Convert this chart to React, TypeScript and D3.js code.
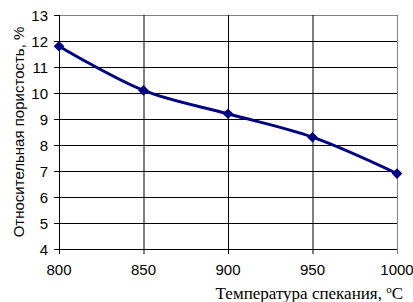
import { useRef, useEffect } from 'react'
import * as d3 from 'd3'

const temps = [800, 850, 900, 950, 1000]
const porosity = [11.8, 10.1, 9.2, 8.3, 6.9]
const yTicks = [4, 5, 6, 7, 8, 9, 10, 11, 12, 13]
const xTicks = [800, 850, 900, 950, 1000]

const App = () => {
  const svgRef = useRef<SVGSVGElement>(null)

  useEffect(() => {
    const svg = d3.select(svgRef.current)
    svg.selectAll('*').remove()

    const x = d3.scaleLinear().domain([800, 1000]).range([59, 397])
    const y = d3.scaleLinear().domain([4, 13]).range([249, 15])

    // horizontal grid
    svg.append('g').selectAll('line')
      .data(yTicks)
      .enter()
      .append('line')
      .attr('x1', x(800)).attr('x2', x(1000))
      .attr('y1', d => y(d) + 0.5).attr('y2', d => y(d) + 0.5)
      .attr('stroke', (d) => d === 13 ? '#808080' : '#000')
      .attr('stroke-width', 1)

    // vertical grid
    svg.append('g').selectAll('line')
      .data(xTicks.slice(1))
      .enter()
      .append('line')
      .attr('x1', d => x(d) + 0.5).attr('x2', d => x(d) + 0.5)
      .attr('y1', y(13)).attr('y2', y(4) + 5)
      .attr('stroke', d => d === 1000 ? '#808080' : '#000')

    // axes
    svg.append('line')
      .attr('x1', x(800) + 0.5).attr('x2', x(800) + 0.5)
      .attr('y1', y(13)).attr('y2', y(4) + 5)
      .attr('stroke', '#000')
    svg.append('g').selectAll('line')
      .data(yTicks)
      .enter()
      .append('line')
      .attr('x1', x(800) - 5).attr('x2', x(800))
      .attr('y1', d => y(d) + 0.5).attr('y2', d => y(d) + 0.5)
      .attr('stroke', '#000')

    svg.append('g').selectAll('text')
      .data(yTicks)
      .enter()
      .append('text')
      .attr('x', 48)
      .attr('y', d => y(d) + 5.5)
      .attr('text-anchor', 'end')
      .attr('font-family', 'Liberation Sans, Arial, sans-serif')
      .attr('font-size', 15)
      .text(d => d)

    svg.append('g').selectAll('text')
      .data(xTicks)
      .enter()
      .append('text')
      .attr('x', d => x(d))
      .attr('y', 275)
      .attr('text-anchor', 'middle')
      .attr('font-family', 'Liberation Sans, Arial, sans-serif')
      .attr('font-size', 15)
      .text(d => d)

    // titles
    const xt = svg.append('text')
      .attr('x', 403)
      .attr('y', 299)
      .attr('text-anchor', 'end')
      .attr('font-family', 'Liberation Serif, Times New Roman, serif')
      .attr('font-size', 17)
    xt.append('tspan').text('Температура спекания, ')
    xt.append('tspan').attr('dy', -6).attr('font-size', 11).text('o')
    xt.append('tspan').attr('dy', 6).text('C')

    svg.append('text')
      .attr('transform', `translate(24,${(y(4) + y(13)) / 2}) rotate(-90)`)
      .attr('text-anchor', 'middle')
      .attr('font-family', 'Liberation Sans, Arial, sans-serif')
      .attr('font-size', 15)
      .text('Относительная пористость, %')

    // series
    const line = d3.line<number>()
      .x((_, i) => x(temps[i]))
      .y(d => y(d))
      .curve(d3.curveCatmullRom.alpha(0.5))

    svg.append('path')
      .datum(porosity)
      .attr('d', line)
      .attr('fill', 'none')
      .attr('stroke', '#000080')
      .attr('stroke-width', 3)

    svg.append('g').selectAll('path')
      .data(porosity)
      .enter()
      .append('path')
      .attr('d', d3.symbol().type(d3.symbolDiamond2).size(72))
      .attr('transform', (d, i) => `translate(${x(temps[i])},${y(d)})`)
      .attr('fill', '#000080')
  }, [])

  return (
    <svg ref={svgRef} width={413} height={302} style={{ position: 'absolute', left: 0, top: 0 }}></svg>
  )
}
export default App
